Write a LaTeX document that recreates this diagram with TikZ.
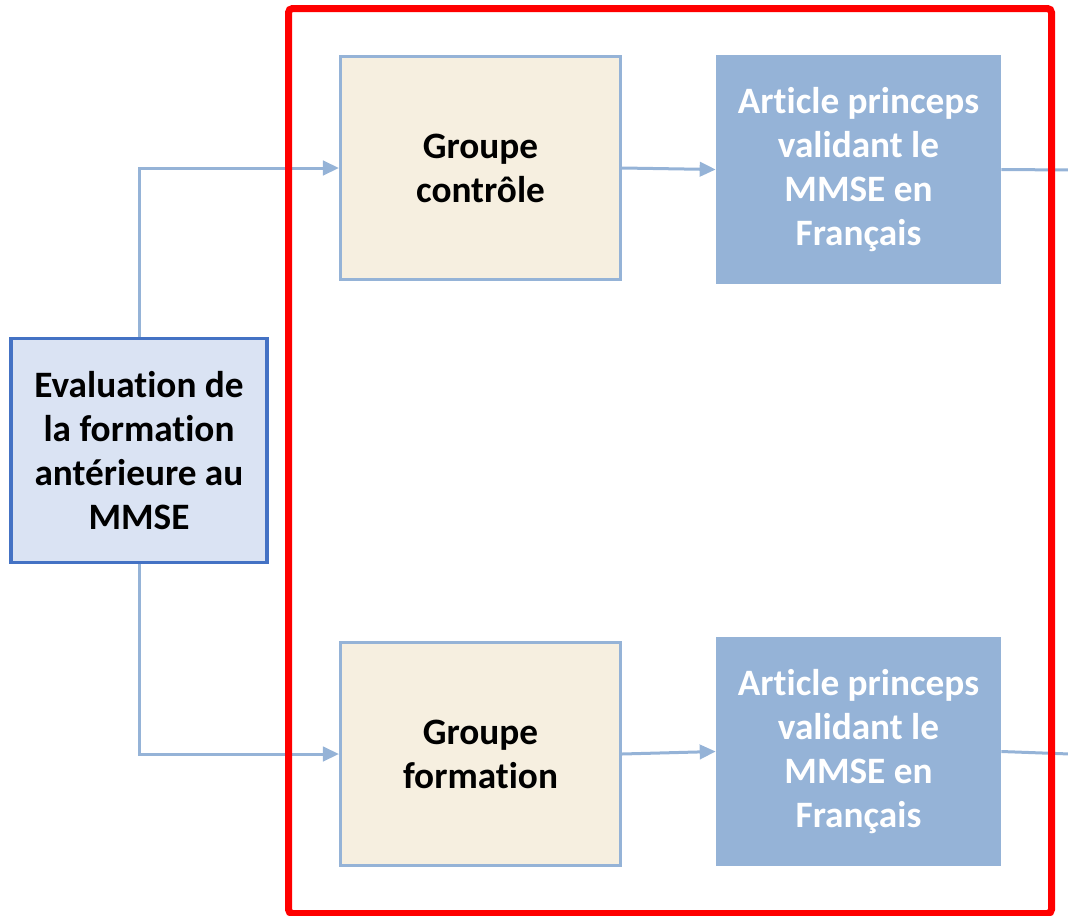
\documentclass[tikz,border=0pt]{standalone}
\usepackage{fontspec}
\setmainfont{Carlito}[RawFeature=-liga]
\usetikzlibrary{arrows.meta}

\definecolor{evalfill}{HTML}{DAE3F3}
\definecolor{evalrand}{HTML}{4472C4}
\definecolor{gruppefill}{HTML}{F6EFE0}
\definecolor{hellblau}{HTML}{95B3D7}

\begin{document}
\begin{tikzpicture}[x=0.025cm, y=-0.025cm, >={Triangle[length=0.4cm,width=0.36cm]},
  txt/.style={inner sep=0pt, align=center, font=\fontsize{26.5}{31.3}\selectfont\bfseries},
  evalbox/.style={txt, draw=evalrand, fill=evalfill, line width=0.085cm, minimum width=6.4cm, minimum height=5.6cm},
  gruppe/.style={txt, draw=hellblau, fill=gruppefill, line width=0.075cm, minimum width=7.0cm, minimum height=5.55cm},
  artikel/.style={txt, fill=hellblau, text=white, minimum width=7.125cm, minimum height=5.725cm},
  pfeil/.style={draw=hellblau, line width=0.075cm}]

\useasboundingbox (0,0) rectangle (1068,916);

% Ausgangspunkt links
\node[evalbox] (E) at (139,450.5) {Evaluation de\\la formation\\antérieure au\\MMSE};

% Gruppen
\node[gruppe] (Gk) at (480.5,168) {Groupe\\contrôle};
\node[gruppe] (Gf) at (480.5,754) {Groupe\\formation};

% Artikel rechts
\node[artikel] (Ak) at (858.5,169.5) {Article princeps\\validant le\\MMSE en\\Français};
\node[artikel] (Af) at (858.5,751.5) {Article princeps\\validant le\\MMSE en\\Français};

% lose Enden am Rand
\coordinate (Rk) at (1070,170);
\coordinate (Rf) at (1070,754);

% Verbindungen
\draw[pfeil, ->] (E.north) |- (Gk.west);
\draw[pfeil, ->] (E.south) |- (Gf.west);
\draw[pfeil, ->] (Gk.east) -- (Ak.west);
\draw[pfeil, ->] (Gf.east) -- (Af.west);
\draw[pfeil] (Ak.east) -- (Rk);
\draw[pfeil] (Af.east) -- (Rf);

% roter Rahmen
\draw[red, line width=0.175cm, rounded corners=0.1cm] (288.5,8.5) rectangle (1051.5,913.5);

\end{tikzpicture}
\end{document}
